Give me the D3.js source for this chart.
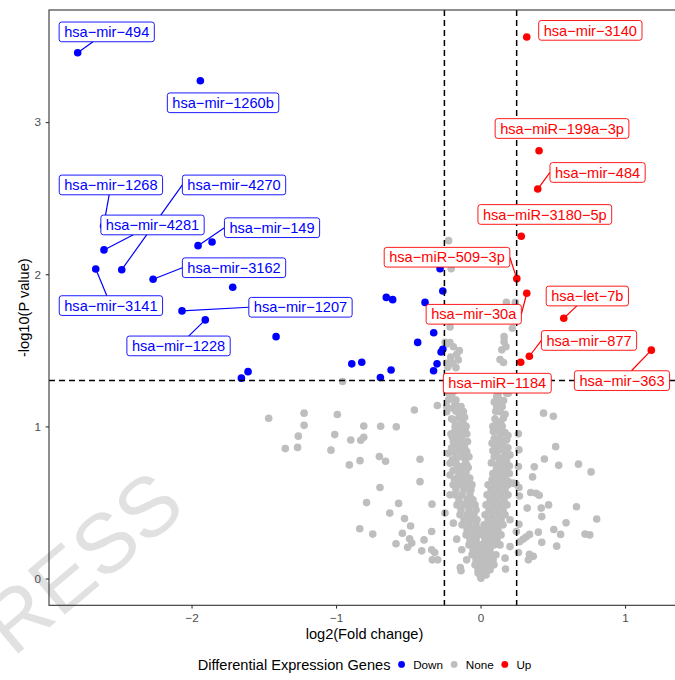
<!DOCTYPE html>
<html>
<head>
<meta charset="utf-8">
<script src="https://cdn.jsdelivr.net/npm/d3@7"></script>
<style>
  body { margin: 0; background: #fff; }
  svg { display: block; }
  text { font-family: "Liberation Sans", Arial, Helvetica, sans-serif; }
</style>
</head>
<body>
<svg id="chart" width="675" height="680"></svg>
<script>
// ---- data -------------------------------------------------------------
const xTicks = [-2, -1, 0, 1];
const yTicks = [0, 1, 2, 3];
const pCutoff = 0.05;          // horizontal threshold at -log10(0.05)
const fcCutoff = 0.25;         // vertical thresholds at +/- 0.25
const xTitle = "log2(Fold change)";
const yTitle = "-log10(P value)";
const legendTitle = "Differential Expression Genes";
const groups = ["Down", "None", "Up"];
const groupColors = ["#0000FF", "#BEBEBE", "#FF0000"];
const watermark = "RESS";

// significant genes that carry a name label
const labeledGenes = [
  "hsa-mir-494", "hsa-mir-1260b", "hsa-mir-1268", "hsa-mir-4270", "hsa-mir-4281",
  "hsa-mir-149", "hsa-mir-3162", "hsa-mir-3141", "hsa-mir-1207", "hsa-mir-1228",
  "hsa-mir-3140", "hsa-miR-199a-3p", "hsa-mir-484", "hsa-miR-3180-5p", "hsa-miR-509-3p",
  "hsa-mir-30a", "hsa-let-7b", "hsa-mir-877", "hsa-miR-1184", "hsa-mir-363"
];
const labeledGroup = [
  "Down", "Down", "Down", "Down", "Down", "Down", "Down", "Down", "Down", "Down",
  "Up", "Up", "Up", "Up", "Up", "Up", "Up", "Up", "Up", "Up"
];
const labeledFC = [
  -2.788, -1.939, -2.609, -2.483, -2.606, -1.955, -2.266, -2.663, -2.066, -1.905,
  0.320, 0.405, 0.396, 0.282, 0.251, 0.320, 0.576, 0.338, 0.278, 1.182
];
const labeledLogP = [
  3.456, 3.272, 2.317, 2.030, 2.160, 2.188, 1.967, 2.035, 1.759, 1.700,
  3.559, 2.812, 2.560, 2.250, 1.971, 1.875, 1.711, 1.461, 1.422, 1.501
];
// where each repelled label box is centred (data units)
const labelFC = [
  -2.587, -1.782, -2.558, -1.706, -2.270, -1.443, -1.706, -2.558, -1.246, -2.090,
  0.760, 0.564, 0.810, 0.445, -0.232, -0.047, 0.739, 0.751, 0.116, 0.979
];
const labelLogP = [
  3.593, 3.127, 2.587, 2.587, 2.324, 2.306, 2.043, 1.794, 1.783, 1.529,
  3.603, 2.958, 2.669, 2.393, 2.112, 1.737, 1.857, 1.565, 1.284, 1.301
];

// other down-regulated genes
const downFC = [
  -1.858, -1.715, -1.415, -1.609, -1.655, -0.891, -0.822, -0.619, -0.693, -0.435,
  -0.384, -0.652, -0.608, -0.280, -0.261, -0.324, -0.261, -0.273, -0.301, -0.325
];
const downLogP = [
  2.212, 1.915, 1.590, 1.360, 1.317, 1.411, 1.422, 1.371, 1.321, 1.552,
  1.815, 1.848, 1.833, 2.036, 1.890, 1.616, 1.507, 1.489, 1.411, 1.366
];

// genes that are not differentially expressed: [log2FC, -log10(P)]
const nonePoints = [
  // scattered, negative fold change
  [-0.955,1.295],[-1.466,1.054],[-1.221,1.087],[-1.221,1.007],[-1.261,0.936],[-1.266,0.862],
  [-1.351,0.854],[-0.991,1.078],[-1.009,0.946],[-1.035,0.844],[-0.898,0.911],[-0.829,0.909],
  [-0.808,0.928],[-0.808,1.003],[-0.691,1.001],[-0.583,0.997],[-0.834,0.775],[-0.908,0.747],
  [-0.700,0.802],[-0.657,0.771],[-0.696,0.598],[-0.789,0.499],[-0.567,0.494],[-0.628,0.430],
  [-0.526,0.394],[-0.484,0.345],[-0.836,0.327],[-0.746,0.292],[-0.541,0.298],[-0.491,0.261],
  [-0.585,0.229],[-0.505,0.205],[-0.476,0.233],[-0.458,1.108],[-0.419,0.784],[-0.419,0.637],
  [-0.336,0.489],[-0.391,0.254],[-0.338,0.309],[-0.407,0.182],[-0.338,0.189],[-0.317,0.171],
  [-0.334,0.123],[-0.296,0.123],[-0.140,0.072],[-0.135,0.051],[-0.246,0.430],[-0.211,0.550],
  [-0.188,0.364],[-0.165,0.259],[-0.130,0.189],[-0.096,0.123],[-0.234,1.097],[-0.299,1.137],
  [-0.234,1.130],
  // scattered, positive fold change
  [0.436,1.087],[0.504,1.067],[0.520,0.867],[0.442,0.786],[0.372,0.734],[0.541,0.744],
  [0.678,0.752],[0.765,0.701],[0.360,0.668],[0.245,0.622],[0.347,0.566],[0.385,0.561],
  [0.406,0.547],[0.323,0.463],[0.420,0.463],[0.471,0.484],[0.664,0.472],[0.804,0.391],
  [0.592,0.366],[0.424,0.407],[0.507,0.322],[0.554,0.290],[0.723,0.292],[0.756,0.287],
  [0.400,0.305],[0.424,0.238],[0.527,0.213],[0.339,0.290],[0.315,0.273],[0.294,0.258],
  [0.270,0.242],[0.266,0.357],[0.338,0.160],[0.365,0.146],[0.331,0.123],[0.262,0.171],
  [0.173,0.062],[0.266,0.598],[0.269,0.543],[0.262,0.951],[0.266,0.846],[0.262,0.736],
  [0.204,0.386],[0.204,0.210],[0.227,0.627],[0.248,0.309],[0.170,0.134],[0.192,1.218],
  // small fold change, above the P threshold
  [-0.221,2.221],[-0.203,2.036],[-0.211,1.654],[-0.245,1.553],[-0.211,1.551],[-0.188,1.524],
  [-0.147,1.498],[-0.165,1.474],[-0.154,1.437],[-0.206,1.455],[-0.195,1.415],[-0.170,1.386],
  [-0.227,1.389],[-0.234,1.542],[-0.234,1.415],
  [0.179,1.815],[0.241,1.815],[0.220,1.645],[0.163,1.590],[0.163,1.557],[0.176,1.524],
  [0.135,1.439],[0.159,1.420],[0.147,1.503],
  // top of the two arms
  [-0.199,1.196],[-0.170,1.174],[-0.234,1.229],[-0.188,1.229],[-0.211,1.207],[-0.223,1.174],
  [-0.176,1.152],[0.112,1.196],[0.135,1.163],[0.123,1.120],[0.123,1.218],[0.181,1.222],
  // left arm
  [-0.119,1.097],[-0.130,1.054],[-0.176,0.999],[-0.154,0.944],[-0.107,0.966],[-0.188,0.900],
  [-0.142,0.867],[-0.096,0.834],[-0.165,0.791],[-0.223,0.824],[-0.211,0.758],[-0.142,0.725],
  [-0.096,0.747],[-0.119,0.681],[-0.165,0.637],[-0.084,0.637],[-0.211,0.681],
  [-0.160,1.120],[-0.140,1.080],[-0.185,1.040],[-0.120,1.020],[-0.165,0.970],[-0.130,0.930],
  [-0.175,0.880],[-0.115,0.890],[-0.150,0.840],[-0.125,0.800],[-0.180,0.770],[-0.105,0.780],
  [-0.145,0.700],[-0.190,0.710],[-0.100,0.700],[-0.130,0.650],[-0.075,0.660],[-0.200,1.050],
  [-0.095,0.950],[-0.145,1.010],[-0.110,0.860],[-0.200,0.860],
  [-0.205,0.950],[-0.185,0.960],[-0.125,0.980],[-0.100,1.000],[-0.150,1.060],[-0.110,1.060],
  [-0.170,1.100],[-0.135,1.130],[-0.190,1.120],[-0.160,0.920],[-0.195,0.930],[-0.140,0.900],
  [-0.090,0.900],[-0.120,0.870],[-0.185,0.830],[-0.130,0.820],[-0.080,0.800],[-0.165,0.750],
  [-0.120,0.740],[-0.085,0.730],[-0.195,0.780],[-0.155,0.670],[-0.100,0.660],[-0.180,0.650],
  [-0.120,0.620],[-0.070,0.620],
  // right arm
  [0.123,1.185],[0.181,1.218],[0.112,1.130],[0.135,1.097],[0.158,1.054],[0.123,1.010],
  [0.089,0.966],[0.135,0.944],[0.181,0.911],[0.112,0.878],[0.170,0.834],[0.135,0.791],
  [0.204,0.813],[0.112,0.747],[0.181,0.725],[0.158,0.681],[0.135,0.637],[0.192,0.637],
  [0.100,1.050],[0.150,1.000],[0.170,0.960],[0.095,0.920],[0.155,0.880],[0.120,0.840],
  [0.180,0.770],[0.095,0.800],[0.150,0.740],[0.125,0.700],[0.085,0.690],[0.170,0.660],
  [0.105,0.620],[0.140,0.900],[0.100,0.860],[0.160,0.800],[0.130,0.760],
  [0.085,1.000],[0.110,1.020],[0.140,1.030],[0.170,1.080],[0.105,1.100],[0.150,1.130],
  [0.095,1.160],[0.160,1.170],[0.130,0.970],[0.190,0.940],[0.120,0.910],[0.165,0.910],
  [0.080,0.890],[0.190,0.860],[0.145,0.850],[0.085,0.840],[0.110,0.810],[0.185,0.800],
  [0.145,0.770],[0.075,0.760],[0.200,0.740],[0.110,0.720],[0.165,0.710],[0.080,0.650],
  [0.150,0.640],[0.120,0.660],[0.200,0.690],[0.175,0.610],
  // lower part of the V
  [-0.190,0.616],[-0.142,0.616],[-0.093,0.616],[-0.059,0.616],[0.052,0.616],[0.100,0.616],[0.149,0.616],[0.190,0.616],
  [-0.170,0.583],[-0.114,0.583],[-0.066,0.583],[0.073,0.583],[0.121,0.583],[0.170,0.583],
  [-0.176,0.550],[-0.128,0.550],[-0.073,0.550],[0.045,0.550],[0.093,0.550],[0.142,0.550],[0.190,0.550],
  [-0.149,0.517],[-0.093,0.517],[-0.052,0.517],[0.066,0.517],[0.114,0.517],[0.163,0.517],
  [-0.163,0.484],[-0.114,0.484],[-0.073,0.484],[-0.038,0.484],[0.038,0.484],[0.087,0.484],[0.135,0.484],[0.183,0.484],
  [-0.135,0.451],[-0.080,0.451],[-0.031,0.451],[0.059,0.451],[0.107,0.451],[0.156,0.451],
  [-0.142,0.419],[-0.093,0.419],[-0.045,0.419],[0.031,0.419],[0.080,0.419],[0.128,0.419],[0.170,0.419],
  [-0.114,0.386],[-0.066,0.386],[-0.024,0.386],[0.052,0.386],[0.093,0.386],[0.142,0.386],
  [-0.128,0.353],[-0.080,0.353],[-0.031,0.353],[0.024,0.353],[0.066,0.353],[0.114,0.353],[0.156,0.353],
  [-0.093,0.320],[-0.045,0.320],[-0.010,0.320],[0.038,0.320],[0.080,0.320],[0.121,0.320],
  [-0.100,0.287],[-0.059,0.287],[-0.017,0.287],[0.017,0.287],[0.059,0.287],[0.100,0.287],[0.142,0.287],
  [-0.073,0.254],[-0.031,0.254],[0.031,0.254],[0.073,0.254],[0.114,0.254],
  [-0.080,0.221],[-0.038,0.221],[-0.003,0.221],[0.010,0.221],[0.052,0.221],[0.093,0.221],[0.135,0.221],
  [-0.052,0.188],[-0.010,0.188],[0.024,0.188],[0.066,0.188],
  [-0.059,0.156],[-0.017,0.156],[0.017,0.156],[0.024,0.156],[0.066,0.156],[0.107,0.156],
  [-0.031,0.123],[0.003,0.123],[0.045,0.123],[0.087,0.123],
  [-0.038,0.090],[0.003,0.090],[0.038,0.090],[0.010,0.090],[0.052,0.090],[0.093,0.090],
  [-0.017,0.057],[0.024,0.057],[0.066,0.057],
  [-0.017,0.037],[0.017,0.037],[-0.003,0.024],[0.038,0.024],[0.003,0.002]
];

// ---- layout -----------------------------------------------------------
const svg = d3.select("#chart");
const panel = { left: 49, top: 10, right: 680, bottom: 605.3 };

const allFC = labeledFC.concat(downFC, nonePoints.map(d => d[0]));
const allLogP = labeledLogP.concat(downLogP, nonePoints.map(d => d[1]));
const xExt = d3.extent(allFC), yExt = d3.extent(allLogP);
const xPad = (xExt[1] - xExt[0]) * 0.05, yPad = (yExt[1] - yExt[0]) * 0.05;

const x = d3.scaleLinear().domain([xExt[0] - xPad, xExt[1] + xPad]).range([panel.left, panel.right]);
const y = d3.scaleLinear().domain([yExt[0] - yPad, yExt[1] + yPad]).range([panel.bottom, panel.top]);
const color = d3.scaleOrdinal().domain(groups).range(groupColors);
const minus = s => String(s).replace(/-/g, "\u2212");

svg.append("rect").attr("width", 675).attr("height", 680).attr("fill", "#fff");

// ---- watermark (sits underneath the plot) -------------------------------
svg.append("text").attr("transform", "translate(13,658) rotate(-40)")
  .attr("font-size", "84px").attr("fill", "#dcdcdc").attr("fill-opacity", 0.85)
  .text(watermark);

// ---- points -----------------------------------------------------------
const R = 3.8;
const plot = svg.append("g");
plot.append("g").selectAll("circle").data(nonePoints).join("circle")
  .attr("cx", d => x(d[0])).attr("cy", d => y(d[1])).attr("r", R)
  .attr("fill", color("None"));
plot.append("g").selectAll("circle").data(d3.range(downFC.length)).join("circle")
  .attr("cx", i => x(downFC[i])).attr("cy", i => y(downLogP[i])).attr("r", R)
  .attr("fill", color("Down"));
plot.append("g").selectAll("circle").data(d3.range(labeledGenes.length)).join("circle")
  .attr("cx", i => x(labeledFC[i])).attr("cy", i => y(labeledLogP[i])).attr("r", R)
  .attr("fill", i => color(labeledGroup[i]));

// ---- threshold lines ---------------------------------------------------
const guides = svg.append("g").attr("stroke", "#000").attr("stroke-width", 1.5)
  .attr("stroke-dasharray", "6,4").attr("fill", "none");
[-fcCutoff, fcCutoff].forEach(v => {
  guides.append("line").attr("x1", x(v)).attr("x2", x(v))
    .attr("y1", panel.top).attr("y2", panel.bottom);
});
guides.append("line").attr("x1", panel.left).attr("x2", panel.right)
  .attr("y1", y(-Math.log10(pCutoff))).attr("y2", y(-Math.log10(pCutoff)));

// ---- repelled labels ---------------------------------------------------
function segmentEnd(px, py, b) {
  if (px < b.x1) return [b.x1, b.cy];
  if (px > b.x2) return [b.x2, b.cy];
  const ey = py < b.y1 ? b.y1 : b.y2;
  const t = (ey - py) / (b.cy - py);
  return [px + t * (b.cx - px), ey];
}
const labelLayer = svg.append("g");
labeledGenes.forEach((gene, i) => {
  const c = color(labeledGroup[i]);
  const g = labelLayer.append("g");
  const seg = g.append("line");
  const box = g.append("rect");
  const txt = g.append("text").text(minus(gene))
    .attr("font-size", "14.6px").attr("fill", c).attr("text-anchor", "middle");
  const cx = x(labelFC[i]), cy = y(labelLogP[i]);
  const w = txt.node().getComputedTextLength() + 10, h = 19.7;
  const b = { x1: cx - w / 2, x2: cx + w / 2, y1: cy - h / 2, y2: cy + h / 2, cx, cy };
  txt.attr("x", cx).attr("y", cy + 5.2);
  box.attr("x", b.x1).attr("y", b.y1).attr("width", w).attr("height", h)
    .attr("rx", 2.5).attr("fill", "#fff").attr("stroke", c).attr("stroke-width", 0.9);
  const px = x(labeledFC[i]), py = y(labeledLogP[i]);
  const inside = px >= b.x1 && px <= b.x2 && py >= b.y1 && py <= b.y2;
  if (!inside) {
    const e = segmentEnd(px, py, b);
    if (Math.hypot(e[0] - px, e[1] - py) > 18) {
      seg.attr("x1", px).attr("y1", py).attr("x2", e[0]).attr("y2", e[1])
        .attr("stroke", c).attr("stroke-width", 1.2);
    }
  }
});

// ---- panel border and axes ----------------------------------------------
svg.append("rect").attr("x", panel.left).attr("y", panel.top)
  .attr("width", panel.right - panel.left).attr("height", panel.bottom - panel.top)
  .attr("fill", "none").attr("stroke", "#333").attr("stroke-width", 1.1);

const xAxis = svg.append("g").attr("transform", `translate(0,${panel.bottom})`)
  .call(d3.axisBottom(x).tickValues(xTicks).tickSize(3.3).tickPadding(4.8).tickFormat(minus));
const yAxis = svg.append("g").attr("transform", `translate(${panel.left},0)`)
  .call(d3.axisLeft(y).tickValues(yTicks).tickSize(3.3).tickPadding(4.7).tickFormat(minus));
[xAxis, yAxis].forEach(a => {
  a.select(".domain").remove();
  a.selectAll(".tick line").attr("stroke", "#333").attr("stroke-width", 1.1);
  a.selectAll(".tick text").attr("fill", "#4D4D4D").attr("font-size", "11.7px")
    .attr("font-family", "Liberation Sans, Arial, sans-serif");
});

svg.append("text").attr("x", (panel.left + panel.right) / 2).attr("y", 639)
  .attr("text-anchor", "middle").attr("font-size", "14.6px").attr("fill", "#000").text(xTitle);
svg.append("text")
  .attr("transform", `translate(29,${(panel.top + panel.bottom) / 2}) rotate(-90)`)
  .attr("text-anchor", "middle").attr("font-size", "14.6px").attr("fill", "#000").text(yTitle);

// ---- legend -------------------------------------------------------------
const legend = svg.append("g");
const lgY = 664.4;
const lgTitle = legend.append("text").attr("y", lgY + 5.1).attr("font-size", "14.6px")
  .attr("fill", "#000").text(legendTitle);
let cursor = lgTitle.node().getComputedTextLength();
groups.forEach((gname, i) => {
  const dotX = cursor + 11.1;
  legend.append("circle").attr("cx", dotX).attr("cy", lgY).attr("r", 3.4)
    .attr("fill", groupColors[i]);
  const t = legend.append("text").attr("x", dotX + 11.6).attr("y", lgY + 4.4)
    .attr("font-size", "11.7px").attr("fill", "#000").text(gname);
  cursor = dotX + 11.6 + t.node().getComputedTextLength();
});
legend.attr("transform", `translate(${(panel.left + panel.right) / 2 - cursor / 2},0)`);
</script>
</body>
</html>
